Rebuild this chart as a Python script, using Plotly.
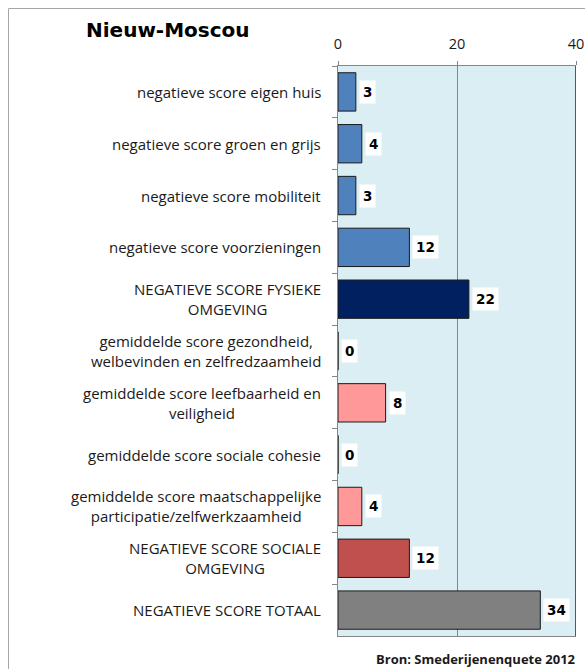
import plotly.graph_objects as go

categories = [
    "negatieve score eigen huis",
    "negatieve score groen en grijs",
    "negatieve score mobiliteit",
    "negatieve score voorzieningen",
    "NEGATIEVE SCORE FYSIEKE<br>OMGEVING",
    "gemiddelde score gezondheid,<br>welbevinden en zelfredzaamheid",
    "gemiddelde score leefbaarheid en<br>veiligheid",
    "gemiddelde score sociale cohesie",
    "gemiddelde score maatschappelijke<br>participatie/zelfwerkzaamheid",
    "NEGATIEVE SCORE SOCIALE<br>OMGEVING",
    "NEGATIEVE SCORE TOTAAL",
]
values = [3, 4, 3, 12, 22, 0, 8, 0, 4, 12, 34]
bar_colors = ["#4F81BD", "#4F81BD", "#4F81BD", "#4F81BD", "#002060",
              "#FF9999", "#FF9999", "#FF9999", "#FF9999", "#C0504D", "#808080"]
x_ticks = [0, 20, 40]
title_text = "Nieuw-Moscou"
source_text = "Bron: Smederijenenquete 2012"

W, H = 585, 669
L, R, T, B = 338, 9, 66, 33
pw, ph = W - L - R, H - T - B


def px_x(xw):
    return (xw - L) / pw


def px_y(yw):
    return (H - B - yw) / ph


LABEL_FONT = "Open Sans, Noto Sans, sans-serif"

fig = go.Figure()
fig.add_trace(go.Bar(
    y=categories, x=values, orientation="h",
    marker=dict(color=bar_colors, line=dict(color="#1a1a1a", width=1)),
    width=0.74, hoverinfo="x+y",
))

annotations = []
for c, v in zip(categories, values):
    annotations.append(dict(
        x=0, xref="paper", y=c, yref="y", text=c, showarrow=False,
        xanchor="right", yanchor="middle", align="center", xshift=-15,
        font=dict(family=LABEL_FONT, size=15, color="#1a1a1a"),
    ))
    annotations.append(dict(
        x=v, xref="x", y=c, yref="y", text=f"<b>{v}</b>", showarrow=False,
        xanchor="left", yanchor="middle", xshift=3,
        bgcolor="white", borderpad=3,
        font=dict(family="DejaVu Sans, Verdana, sans-serif", size=13.5, color="black"),
    ))

annotations.append(dict(
    x=px_x(84), xref="paper", y=px_y(30), yref="paper",
    text=f"<b>{title_text}</b>", showarrow=False, xanchor="left", yanchor="middle",
    font=dict(family="DejaVu Sans, Verdana, sans-serif", size=20, color="black"),
))
annotations.append(dict(
    x=px_x(578), xref="paper", y=px_y(659), yref="paper",
    text=f"<b>{source_text}</b>", showarrow=False, xanchor="right", yanchor="middle",
    font=dict(family=LABEL_FONT, size=13, color="#1a1a1a"),
))

border = dict(color="#A6A6A6", width=1)
shapes = [
    # outer chart border: only its top and left edges fall inside the picture
    dict(type="line", xref="paper", yref="paper",
         x0=px_x(8.5), x1=px_x(W), y0=px_y(8.5), y1=px_y(8.5), line=border),
    dict(type="line", xref="paper", yref="paper",
         x0=px_x(8.5), x1=px_x(8.5), y0=px_y(8.5), y1=px_y(H), line=border),
    # right edge of plot area
    dict(type="line", xref="x", yref="paper", x0=40, x1=40, y0=0, y1=1,
         line=dict(color="#262626", width=1.5)),
]

fig.update_layout(
    width=W, height=H,
    margin=dict(l=L, r=R, t=T, b=B, pad=0, autoexpand=False),
    paper_bgcolor="white", plot_bgcolor="#DAEEF3",
    showlegend=False, bargap=0.26,
    annotations=annotations, shapes=shapes,
    xaxis=dict(
        side="top", range=[0, 40], tickvals=x_ticks, ticktext=[str(t) for t in x_ticks],
        ticks="outside", ticklen=4, tickcolor="#868686",
        showgrid=True, gridcolor="#868686", gridwidth=1,
        showline=True, linecolor="#868686", linewidth=1, mirror=True,
        zeroline=False, automargin=False, ticklabelstandoff=6,
        tickfont=dict(family=LABEL_FONT, size=14.5, color="#1a1a1a"),
    ),
    yaxis=dict(
        autorange="reversed", showticklabels=False, automargin=False,
        ticks="outside", ticklen=5, tickcolor="#868686", tickson="boundaries",
        showline=True, linecolor="#868686", linewidth=1,
        showgrid=False,
    ),
)

fig.write_html(
    "out.html",
    config={"displayModeBar": False},
    post_script="document.body.style.margin='0';document.body.style.overflow='hidden';",
)
